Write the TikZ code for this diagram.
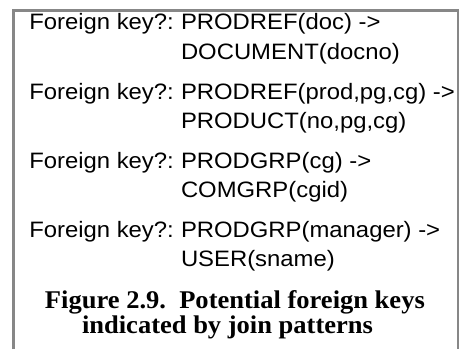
\documentclass[tikz,border=0pt]{standalone}
\usepackage{fontspec}
\newfontfamily\fksans[FakeStretch=1.07]{Liberation Sans}
\newfontfamily\capserif[FakeStretch=1.04]{Liberation Serif}
\begin{document}
\begin{tikzpicture}[x=1pt,y=-1pt,
  txt/.style={anchor=base west,inner sep=0pt,outer sep=0pt,font=\fksans\fontsize{22.3}{26}\selectfont,text=black},
  captxt/.style={anchor=base west,inner sep=0pt,outer sep=0pt,font=\capserif\bfseries\fontsize{25.5}{28}\selectfont,text=black},
  frame/.style={draw=black!47,line width=2.4pt}]
\useasboundingbox (0,0) rectangle (464,349);
\coordinate (bl) at (13.5,349);
\coordinate (tl) at (13.5,10.5);
\coordinate (tr) at (458,10.5);
\coordinate (br) at (458,349);
\draw[frame] (bl) -- (tl) -- (tr) -- (br);
% entry 1
\node[txt] (fk1) at (29.3,29.3) {Foreign key?:};
\node[txt] (ref1) at (181,29.3) {PRODREF(doc) ->};
\node[txt] (tgt1) at (181,59) {DOCUMENT(docno)};
% entry 2
\node[txt] (fk2) at (29.3,99.2) {Foreign key?:};
\node[txt] (ref2) at (181,99.2) {PRODREF(prod,pg,cg) ->};
\node[txt] (tgt2) at (181,128) {PRODUCT(no,pg,cg)};
% entry 3
\node[txt] (fk3) at (29.3,168.3) {Foreign key?:};
\node[txt] (ref3) at (181,168.3) {PRODGRP(cg) ->};
\node[txt] (tgt3) at (181,197.5) {COMGRP(cgid)};
% entry 4
\node[txt] (fk4) at (29.3,237.7) {Foreign key?:};
\node[txt] (ref4) at (181,237.7) {PRODGRP(manager) ->};
\node[txt] (tgt4) at (181,266.7) {USER(sname)};
% caption
\node[captxt] (cap1) at (45,308.3) {Figure 2.9.\ \ Potential foreign keys};
\node[captxt] (cap2) at (82,333.3) {indicated by join patterns};
\end{tikzpicture}
\end{document}
